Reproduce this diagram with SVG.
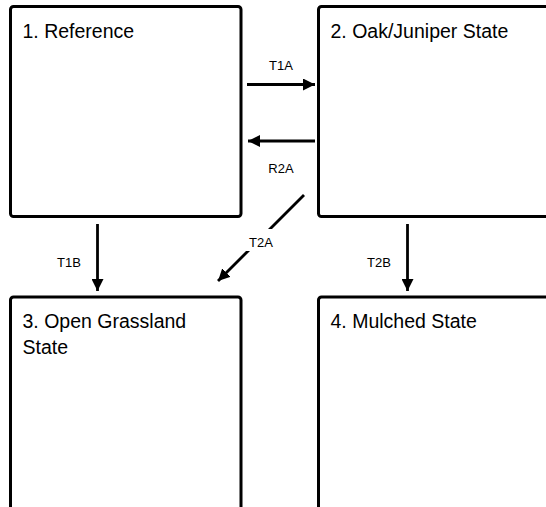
<svg xmlns="http://www.w3.org/2000/svg" width="546" height="507" viewBox="0 0 546 507">
<style>
.box{fill:#fff;stroke:#000;stroke-width:3}
.t{font-family:"Liberation Sans",Arial,sans-serif;font-size:19.5px;fill:#000}
.l{font-family:"Liberation Sans",Arial,sans-serif;font-size:13px;fill:#000;text-anchor:middle}
.c{stroke:#000;stroke-width:2.8;fill:none;marker-end:url(#ah)}
</style>
<defs>
<marker id="ah" markerUnits="userSpaceOnUse" markerWidth="12" markerHeight="12" refX="10" refY="5" orient="auto" viewBox="0 0 10 10">
<path d="M0,0 L10,5 L0,10 Z" fill="#000"/>
</marker>
</defs>
<rect width="546" height="507" fill="#fff"/>
<g id="n1"><rect class="box" x="10.5" y="6.5" width="230.5" height="210" rx="3"/><text class="t" x="22.5" y="38">1. Reference</text></g>
<g id="n2"><rect class="box" x="318.5" y="6.5" width="260" height="210" rx="3"/><text class="t" x="330.5" y="38">2. Oak/Juniper State</text></g>
<g id="n3"><rect class="box" x="10.5" y="297" width="230.5" height="230" rx="3"/><text class="t" x="22.5" y="328">3. Open Grassland</text><text class="t" x="22.5" y="354">State</text></g>
<g id="n4"><rect class="box" x="318.5" y="297" width="260" height="230" rx="3"/><text class="t" x="330.5" y="328">4. Mulched State</text></g>
<g id="connectors">
<line class="c" x1="247" y1="84.5" x2="315" y2="84.5"/>
<text class="l" x="281" y="70">T1A</text>
<line class="c" x1="315" y1="141" x2="248" y2="141"/>
<text class="l" x="281" y="173">R2A</text>
<line class="c" x1="304" y1="195" x2="218" y2="281"/>
<rect x="246" y="229" width="31" height="22" fill="#fff"/>
<text class="l" x="261" y="247">T2A</text>
<line class="c" x1="97.5" y1="224" x2="97.5" y2="291"/>
<text class="l" x="69" y="267">T1B</text>
<line class="c" x1="407.5" y1="224" x2="407.5" y2="291"/>
<text class="l" x="379" y="267">T2B</text>
</g>
</svg>
